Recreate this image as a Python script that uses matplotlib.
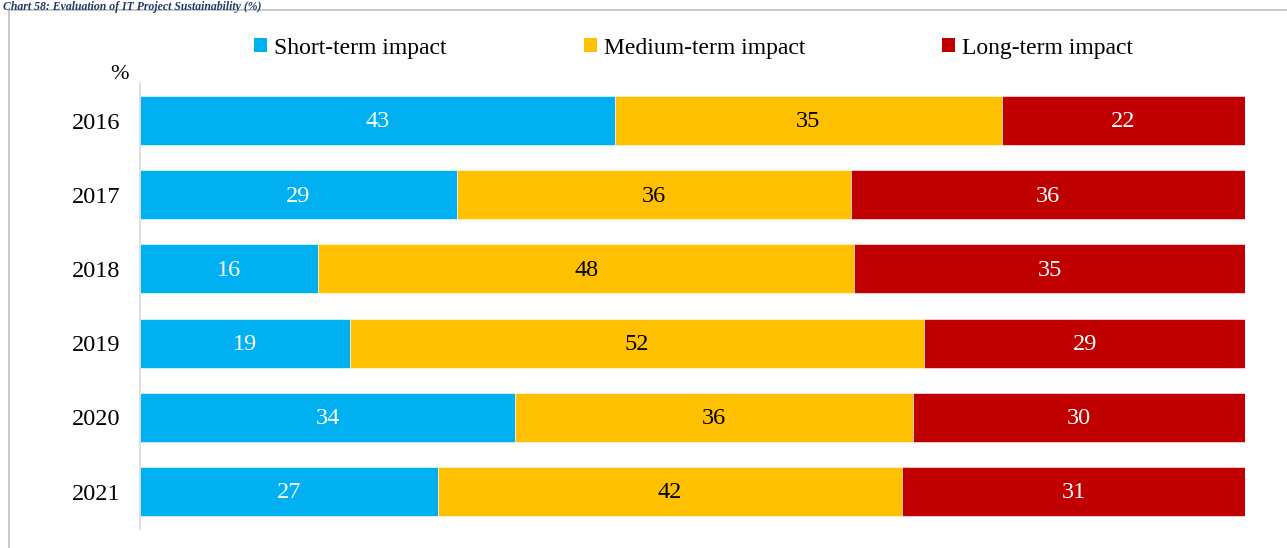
import numpy as np
import matplotlib.pyplot as plt
from matplotlib.patches import Patch, Rectangle

plt.rcParams['font.family'] = ['Liberation Serif', 'DejaVu Serif']

# Data
years = ['2016', '2017', '2018', '2019', '2020', '2021']
short_term = [43, 29, 16, 19, 34, 27]
medium_term = [35, 36, 48, 52, 36, 42]
long_term = [22, 36, 35, 29, 30, 31]
series_names = ['Short-term impact', 'Medium-term impact', 'Long-term impact']
colors = ['#00B0F0', '#FFC000', '#C00000']
label_colors = ['white', 'black', 'white']

fig = plt.figure(figsize=(12.87, 5.48), dpi=100)
ax = fig.add_axes([0.1084, 0.0354, 0.859, 0.8124])

data = np.array([short_term, medium_term, long_term], dtype=float)
totals = data.sum(axis=0)
shares = data / totals * 100
y = np.arange(len(years))

left = np.zeros(len(years))
for vals, share, name, col, lc in zip(data, shares, series_names, colors, label_colors):
    ax.barh(y, share, left=left, height=0.66, color=col,
            edgecolor='white', linewidth=0.4, label=name)
    for yi, (l, s, v) in enumerate(zip(left, share, vals)):
        ax.text(l + s / 2, yi + 0.02, f'{v:.0f}', ha='center', va='center',
                color=lc, fontsize=17.5)
    left += share

ax.set_xlim(0, 100)
ax.set_ylim(len(years) - 0.5, -0.5)
ax.set_yticks(y)
ax.set_yticklabels(years, fontsize=17.5)
ax.tick_params(axis='y', length=0, pad=14)
ax.set_xticks([])
for s in ['top', 'right', 'bottom']:
    ax.spines[s].set_visible(False)
ax.spines['left'].set_color('#D9D9D9')
ax.spines['left'].set_linewidth(1.2)

fig.text(0.093, 0.864, '%', ha='center', va='center', fontsize=16)

handles = [Patch(facecolor=c, edgecolor='none') for c in colors]
fig.legend(handles, series_names, loc='center', bbox_to_anchor=(0.539, 0.912),
           ncol=3, frameon=False, fontsize=17, handlelength=0.55,
           handleheight=0.55, handletextpad=0.3, columnspacing=5.8)

# outer frame
fig.patches.append(Rectangle((9 / 1287, -0.05), 1.2, 1 - 10 / 548 + 0.05,
                             transform=fig.transFigure, fill=False,
                             edgecolor='#BFBFBF', linewidth=1.2))

# title above the frame
fig.text(0.002, 0.999, 'Chart 58: Evaluation of IT Project Sustainability (%)',
         ha='left', va='top', fontsize=8.5, style='italic',
         fontweight='bold', color='#1F3864')

fig.savefig('out.png', dpi=100)
